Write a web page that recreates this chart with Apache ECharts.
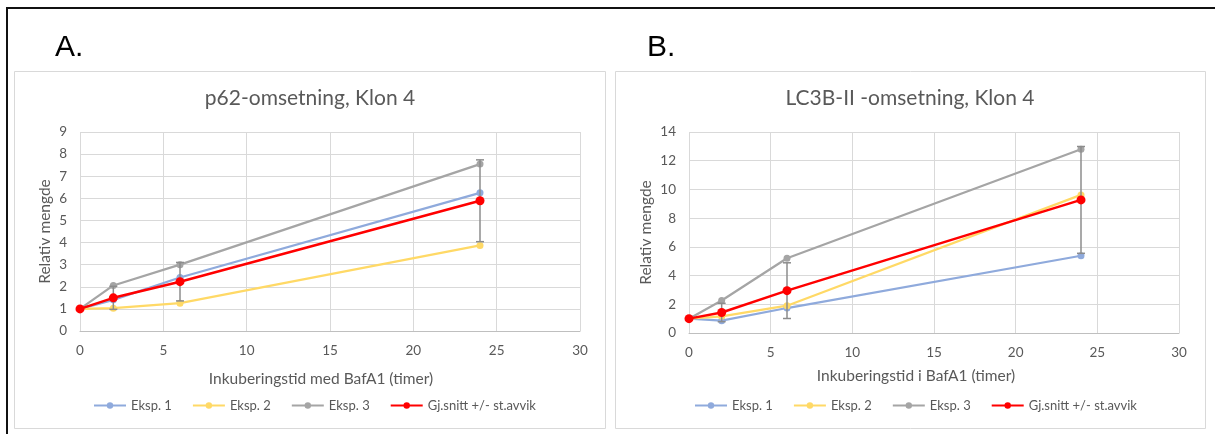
<!DOCTYPE html>
<html><head><meta charset="utf-8">
<script src="https://cdn.jsdelivr.net/npm/echarts@6/dist/echarts.min.js"></script>
<style>html,body{margin:0;padding:0;background:#fff;}#c{width:1215px;height:434px;}</style>
</head><body><div id="c"></div>
<script>
// ---------- data ----------
const times = [0, 2, 6, 24];
const seriesNames = ['Eksp. 1', 'Eksp. 2', 'Eksp. 3', 'Gj.snitt +/- st.avvik'];

// Chart A: p62
const p62Eksp1 = [1, 1.41, 2.42, 6.25];
const p62Eksp2 = [1, 1.03, 1.26, 3.87];
const p62Eksp3 = [1, 2.06, 3.00, 7.55];
const p62Mean  = [1, 1.50, 2.23, 5.89];
const p62Sd    = [0, 0.52, 0.87, 1.85];

// Chart B: LC3B-II
const lc3Eksp1 = [1, 0.86, 1.74, 5.38];
const lc3Eksp2 = [1, 1.16, 1.90, 9.62];
const lc3Eksp3 = [1, 2.26, 5.21, 12.80];
const lc3Mean  = [1, 1.43, 2.95, 9.27];
const lc3Sd    = [0, 0.64, 1.94, 3.72];

const titleA = 'p62-omsetning, Klon 4';
const titleB = 'LC3B-II -omsetning, Klon 4';
const xNameA = 'Inkuberingstid med BafA1 (timer)';
const xNameB = 'Inkuberingstid i BafA1 (timer)';
const yName = 'Relativ mengde';

// ---------- styles ----------
const FONT = 'Lato';
const TXT = '#595959';
const colors = ['#8FAADC', '#FFD966', '#A5A5A5', '#FF0000'];

const chart = echarts.init(document.getElementById('c'), null, {renderer: 'canvas'});

function pairs(ys) { return times.map((t, i) => [t, ys[i]]); }
function errData(mean, sd) {
  return times.map((t, i) => [t, mean[i] - sd[i], mean[i] + sd[i], sd[i]]);
}
function errRender(params, api) {
  if (api.value(3) <= 0) return null;
  const x = api.value(0);
  const lo = api.coord([x, api.value(1)]);
  const hi = api.coord([x, api.value(2)]);
  const c = 4;
  const st = {stroke: '#8C8C8C', lineWidth: 1.5};
  return {type: 'group', children: [
    {type: 'line', shape: {x1: lo[0], y1: lo[1], x2: hi[0], y2: hi[1]}, style: st},
    {type: 'line', shape: {x1: lo[0] - c, y1: lo[1], x2: lo[0] + c, y2: lo[1]}, style: st},
    {type: 'line', shape: {x1: hi[0] - c, y1: hi[1], x2: hi[0] + c, y2: hi[1]}, style: st}
  ]};
}

function lineSeries(name, ys, idx, colorIdx) {
  const isMean = colorIdx === 3;
  return {
    name: name, type: 'line', xAxisIndex: idx, yAxisIndex: idx,
    data: pairs(ys), symbol: 'circle', symbolSize: isMean ? 9 : 7,
    showSymbol: true, z: isMean ? 4 : 2,
    lineStyle: {color: colors[colorIdx], width: isMean ? 2.5 : 2.25},
    itemStyle: {color: colors[colorIdx]},
    emphasis: {disabled: true}
  };
}

function makeXAxis(idx, name, gap, shift) {
  return {
    type: 'value', gridIndex: idx, min: 0, max: 30, interval: 5,
    name: name, nameLocation: 'middle', nameGap: gap,
    nameTextStyle: {color: TXT, fontFamily: FONT, fontSize: 15.5, padding: [0, shift * 2, 0, 0]},
    axisLine: {show: true, lineStyle: {color: '#BFBFBF', width: 1}},
    axisTick: {show: false},
    axisLabel: {color: TXT, fontFamily: FONT, fontSize: 13.5, margin: 13},
    splitLine: {show: true, lineStyle: {color: '#D9D9D9', width: 1}}
  };
}
function makeYAxis(idx, max, interval, gap) {
  return {
    type: 'value', gridIndex: idx, min: 0, max: max, interval: interval,
    name: yName, nameLocation: 'middle', nameGap: gap, nameRotate: 90,
    nameTextStyle: {color: TXT, fontFamily: FONT, fontSize: 15.5},
    axisLine: {show: false}, axisTick: {show: false},
    axisLabel: {color: TXT, fontFamily: FONT, fontSize: 13.5, margin: 13},
    splitLine: {show: true, lineStyle: {color: '#D9D9D9', width: 1}}
  };
}
function makeLegend(left) {
  return {
    left: left, top: 394, orient: 'horizontal',
    itemWidth: 32, itemHeight: 8, itemGap: 20,
    textStyle: {color: TXT, fontFamily: FONT, fontSize: 13},
    data: seriesNames, selectedMode: false
  };
}

const option = {
  animation: false,
  backgroundColor: '#ffffff',
  graphic: [
    {type: 'rect', silent: true, z: -10, shape: {x: 6, y: 7, width: 1209, height: 2}, style: {fill: '#111'}},
    {type: 'rect', silent: true, z: -10, shape: {x: 6, y: 7, width: 2, height: 427}, style: {fill: '#111'}},
    {type: 'rect', silent: true, z: -10, shape: {x: 14.5, y: 71.5, width: 591, height: 357}, style: {fill: 'none', stroke: '#D9D9D9', lineWidth: 1}},
    {type: 'rect', silent: true, z: -10, shape: {x: 615.5, y: 71.5, width: 590, height: 357}, style: {fill: 'none', stroke: '#D9D9D9', lineWidth: 1}},
    {type: 'text', silent: true, x: 55, y: 63, style: {text: 'A.', font: '30px "Liberation Sans"', fill: '#000', textAlign: 'left', textVerticalAlign: 'bottom', align: 'left', verticalAlign: 'bottom'}},
    {type: 'text', silent: true, x: 647, y: 63, style: {text: 'B.', font: '30px "Liberation Sans"', fill: '#000', textAlign: 'left', textVerticalAlign: 'bottom', align: 'left', verticalAlign: 'bottom'}},
    {type: 'text', silent: true, x: 310, y: 98, style: {text: titleA, font: '21px Lato', fill: TXT, textAlign: 'center', textVerticalAlign: 'middle', align: 'center', verticalAlign: 'middle'}},
    {type: 'text', silent: true, x: 910, y: 98, style: {text: titleB, font: '21px Lato', fill: TXT, textAlign: 'center', textVerticalAlign: 'middle', align: 'center', verticalAlign: 'middle'}}
  ],
  grid: [
    {left: 80, top: 132, width: 500, height: 199, containLabel: false},
    {left: 689, top: 132, width: 490, height: 201, containLabel: false}
  ],
  xAxis: [makeXAxis(0, xNameA, 40, 9), makeXAxis(1, xNameB, 35, 18)],
  yAxis: [makeYAxis(0, 9, 1, 27), makeYAxis(1, 14, 2, 35)],
  legend: [makeLegend(88), makeLegend(689)],
  series: [
    lineSeries(seriesNames[0], p62Eksp1, 0, 0),
    lineSeries(seriesNames[1], p62Eksp2, 0, 1),
    lineSeries(seriesNames[2], p62Eksp3, 0, 2),
    {type: 'custom', name: 'errA', xAxisIndex: 0, yAxisIndex: 0, z: 3, renderItem: errRender,
     data: errData(p62Mean, p62Sd), encode: {x: 0, y: [1, 2]}, silent: true},
    lineSeries(seriesNames[3], p62Mean, 0, 3),

    lineSeries(seriesNames[0], lc3Eksp1, 1, 0),
    lineSeries(seriesNames[1], lc3Eksp2, 1, 1),
    lineSeries(seriesNames[2], lc3Eksp3, 1, 2),
    {type: 'custom', name: 'errB', xAxisIndex: 1, yAxisIndex: 1, z: 3, renderItem: errRender,
     data: errData(lc3Mean, lc3Sd), encode: {x: 0, y: [1, 2]}, silent: true},
    lineSeries(seriesNames[3], lc3Mean, 1, 3)
  ]
};
chart.setOption(option);
</script></body></html>
